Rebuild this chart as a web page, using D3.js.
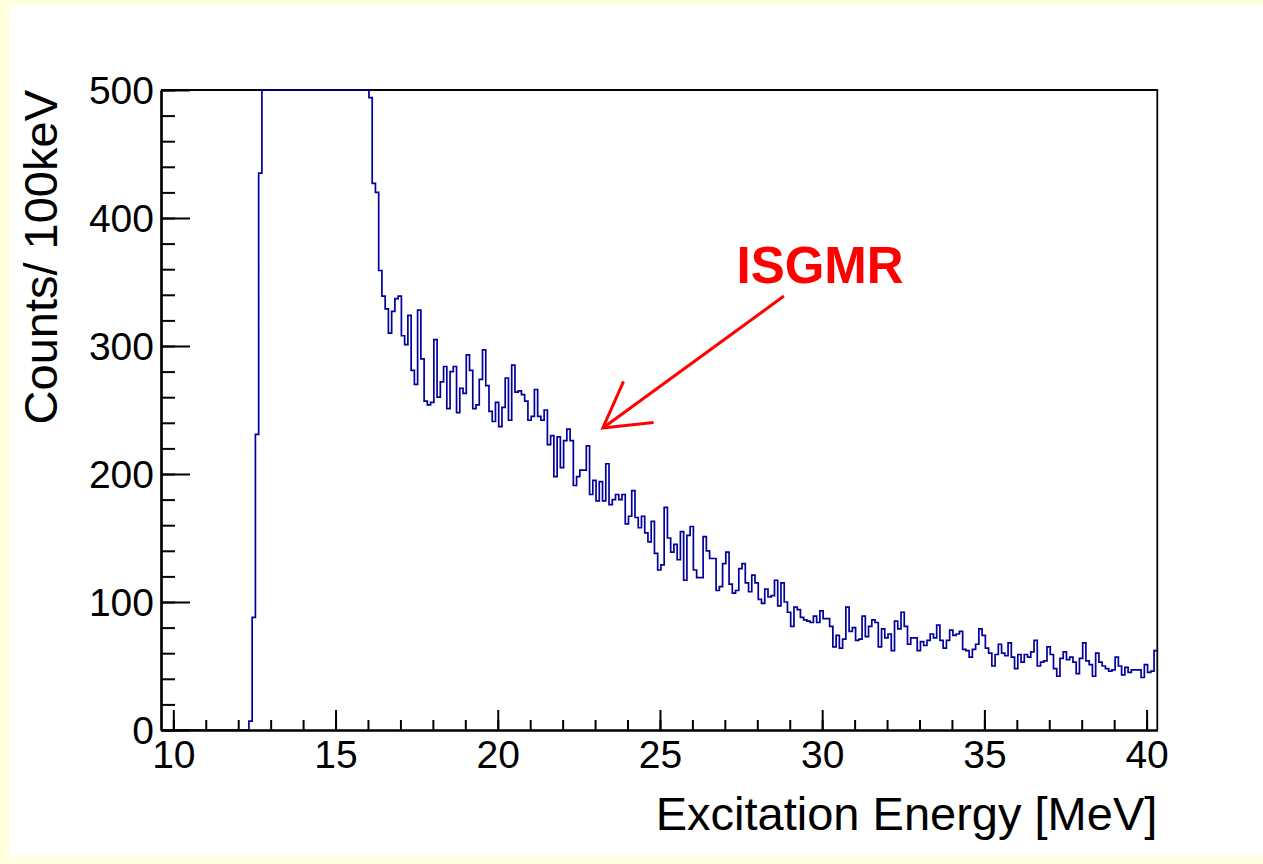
<!DOCTYPE html>
<html>
<head>
<meta charset="utf-8">
<script src="https://cdn.jsdelivr.net/npm/d3@7"></script>
<style>
  html, body { margin: 0; padding: 0; background: #ffffdd; }
  svg { display: block; }
</style>
</head>
<body>
<svg id="chart" width="1263" height="864"></svg>
<script>
//---- Data -------------------------------------------------------------------------------------
// histogram: 0.1 MeV bins starting at 12.33 MeV, counts per bin (values above 500 are off scale)
var binLow = 12.33;
var binWidth = 0.1;
var counts = [
  7, 88, 231, 435,
  500, 500, 500, 500, 500, 500, 500, 500, 500, 500, 500, 500, 500, 500, 500, 500, 500,
  500, 500, 500, 500, 500, 500, 500, 500, 500, 500, 500, 500, 500, 500, 500, 500,
  494, 427, 420, 359, 339, 329, 310, 327, 337, 339,
  308, 301, 324, 281, 270, 328, 290, 257, 254, 256,
  305, 260, 272, 284, 251, 280, 284, 248, 267, 263,
  293, 281, 251, 254, 274, 297, 269, 249, 241, 256,
  237, 252, 275, 242, 285, 264, 265, 262, 257, 242,
  245, 266, 245, 242, 250, 223, 230, 198, 229, 205,
  226, 235, 226, 191, 198, 203, 203, 222, 184, 195,
  179, 194, 179, 208, 176, 180, 184, 180, 184, 161,
  167, 187, 166, 158, 167, 154, 147, 163, 138, 125,
  129, 174, 150, 139, 145, 133, 155, 117, 152, 159,
  125, 119, 119, 151, 140, 134, 134, 109, 112, 130,
  139, 114, 107, 109, 126, 130, 115, 108, 121, 115,
  102, 99, 110,
  104, 105, 117, 97, 115, 100, 92, 81, 96, 94,
  88, 86, 85, 84, 89, 84, 93, 87, 87, 81,
  65, 74, 64, 71, 96, 77, 80, 70, 71, 89,
  73, 81, 86, 84, 65, 79, 72, 75,
  62, 85, 79, 92, 81, 67, 72, 72, 62, 69,
  66, 70, 75, 72, 82, 70, 64, 70, 78, 74,
  75, 77, 63, 62, 57, 63, 67, 79, 74, 64,
  60, 50, 59, 67, 60, 58,
  68, 57, 48, 59, 53, 59, 57, 61, 70, 50,
  53, 54, 65, 59, 48, 42, 56, 61, 55, 57,
  53, 44, 56, 68, 54, 51, 42, 60, 53, 50,
  48, 46, 47, 57, 50, 43, 49, 45, 47, 47,
  47, 41, 51, 45, 46, 62
];

var xRange = [9.62, 40.33];
var yRange = [0, 500];
var xMajorTicks = [10, 15, 20, 25, 30, 35, 40];
var xMinorTicks = d3.range(10, 41, 1);
var yMajorTicks = [0, 100, 200, 300, 400, 500];
var yMinorTicks = d3.range(0, 501, 20);

var xTitle = "Excitation Energy [MeV]";
var yTitle = "Counts/ 100keV";

// annotation: label position and arrow (tail -> tip) in data coordinates
var labelText = "ISGMR";
var labelPos = [27.36, 349.5];
var arrowTail = [28.82, 339];
var arrowTip = [23.24, 236];

//---- Layout ------------------------------------------------------------------------------------
var frame = { left: 161, right: 1157.3, top: 90, bottom: 730 };
var fontFamily = "'Liberation Sans', Arial, Helvetica, sans-serif";
var histColor = "#00009c";

var svg = d3.select("#chart");

// white pad on the yellow canvas
svg.append("rect")
  .attr("x", 9).attr("y", 5)
  .attr("width", 1263 - 9).attr("height", 856 - 5)
  .attr("fill", "#ffffff");

var x = d3.scaleLinear().domain(xRange).range([frame.left, frame.right]);
var y = d3.scaleLinear().domain(yRange).range([frame.bottom, frame.top]).clamp(true);

// top and right frame lines
svg.append("path")
  .attr("d", "M" + frame.left + "," + frame.top + "H" + frame.right + "V" + frame.bottom)
  .attr("fill", "none")
  .attr("stroke", "#000")
  .attr("stroke-width", 1.8);

//---- Histogram ---------------------------------------------------------------------------------
var pts = [[xRange[0], 0], [binLow, 0]];
counts.forEach(function (c, i) {
  pts.push([binLow + i * binWidth, c]);
  pts.push([binLow + (i + 1) * binWidth, c]);
});

svg.append("path")
  .datum(pts)
  .attr("d", d3.line()
    .x(function (d) { return x(Math.min(d[0], xRange[1])); })
    .y(function (d) { return y(d[1]); }))
  .attr("fill", "none")
  .attr("stroke", histColor)
  .attr("stroke-width", 1.7)
  .attr("stroke-linejoin", "miter");

//---- Axes --------------------------------------------------------------------------------------
function styleAxis(g) {
  g.attr("font-family", fontFamily);
  g.selectAll("line").attr("stroke", "#000").attr("stroke-width", 2);
  g.select(".domain").attr("stroke", "#000").attr("stroke-width", 2.2);
}

// x minor
svg.append("g")
  .attr("transform", "translate(0," + frame.bottom + ")")
  .call(d3.axisBottom(x).tickValues(xMinorTicks).tickSizeInner(-10).tickSizeOuter(0).tickFormat(""))
  .call(styleAxis);

// x major with labels
svg.append("g")
  .attr("transform", "translate(0," + frame.bottom + ")")
  .call(d3.axisBottom(x).tickValues(xMajorTicks).tickSizeInner(-20).tickSizeOuter(0).tickPadding(10)
    .tickFormat(d3.format("d")))
  .call(styleAxis)
  .call(function (g) {
    g.selectAll("text").attr("font-size", 39).attr("fill", "#000");
  });

// y minor
svg.append("g")
  .attr("transform", "translate(" + frame.left + ",0)")
  .call(d3.axisLeft(y).tickValues(yMinorTicks).tickSizeInner(-14).tickSizeOuter(0).tickFormat(""))
  .call(styleAxis);

// y major with labels
svg.append("g")
  .attr("transform", "translate(" + frame.left + ",0)")
  .call(d3.axisLeft(y).tickValues(yMajorTicks).tickSizeInner(-29).tickSizeOuter(0).tickPadding(7)
    .tickFormat(d3.format("d")))
  .call(styleAxis)
  .call(function (g) {
    g.selectAll("text").attr("font-size", 39).attr("fill", "#000").attr("dy", "0.35em");
  });

// axis titles
svg.append("text")
  .attr("x", frame.right)
  .attr("y", 830)
  .attr("text-anchor", "end")
  .attr("font-family", fontFamily)
  .attr("font-size", 47)
  .text(xTitle);

svg.append("text")
  .attr("transform", "translate(57," + frame.top + ") rotate(-90)")
  .attr("text-anchor", "end")
  .attr("font-family", fontFamily)
  .attr("font-size", 47)
  .text(yTitle);

//---- Annotation --------------------------------------------------------------------------------
svg.append("text")
  .attr("x", x(labelPos[0]))
  .attr("y", y(labelPos[1]))
  .attr("font-family", fontFamily)
  .attr("font-weight", "bold")
  .attr("font-size", 51)
  .attr("fill", "#ff0000")
  .text(labelText);

var tx = x(arrowTail[0]), ty = y(arrowTail[1]);
var hx = x(arrowTip[0]), hy = y(arrowTip[1]);
var ang = Math.atan2(ty - hy, tx - hx);
var headLen = 51, headAng = 30 * Math.PI / 180;

svg.append("line")
  .attr("x1", tx).attr("y1", ty)
  .attr("x2", hx).attr("y2", hy)
  .attr("stroke", "#ff0000")
  .attr("stroke-width", 3);

svg.append("path")
  .attr("d", "M" + (hx + headLen * Math.cos(ang - headAng)) + "," + (hy + headLen * Math.sin(ang - headAng)) +
    "L" + hx + "," + hy +
    "L" + (hx + headLen * Math.cos(ang + headAng)) + "," + (hy + headLen * Math.sin(ang + headAng)))
  .attr("fill", "none")
  .attr("stroke", "#ff0000")
  .attr("stroke-width", 3);
</script>
</body>
</html>
